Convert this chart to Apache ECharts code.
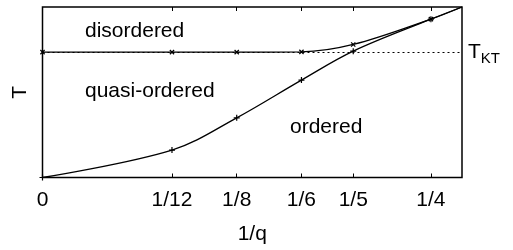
<!DOCTYPE html>
<html lang="en">
<head>
    <meta charset="UTF-8">
    <title>phase diagram</title>
    <script src="https://cdn.jsdelivr.net/npm/echarts@6/dist/echarts.min.js"></script>
</head>
<body style="margin:0">
    <div id="chart" style="width: 513px;height:250px;"></div>
</body>
<script type="text/javascript">
    // x = 1/q, y = T (T_KT = 1)
    var qInv = [0, 1/12, 1/8, 1/6, 1/5, 1/4];
    var tickLabels = ['0', '1/12', '1/8', '1/6', '1/5', '1/4'];
    var tOrdered = [0, 0.219, 0.476, 0.777, 1.008, 1.263];
    var tDisordered = [1.0, 1.0, 1.0, 1.002, 1.061, 1.263];
    var tKT = 1.0;
    var xMax = 0.27, yMax = 1.36;  // both lines run to the top-right corner

    var FONT = 'Liberation Sans';
    var plus = 'path://M0,4H10V6H0Z M4,0H6V10H4Z';

    function points(ys) {
        var d = qInv.map(function (x, i) { return [x, ys[i]]; });
        d.push({ value: [xMax, yMax], symbol: 'none' });
        return d;
    }

    var myChart = echarts.init(document.getElementById('chart'));

    var axisX = {
        type: 'value', min: 0, max: xMax,
        axisLine: { show: false },
        splitLine: { show: false },
        axisTick: { inside: true, length: 4, customValues: qInv, lineStyle: { color: '#000', width: 1 } }
    };

    var option = {
        animation: false,
        grid: {
            left: 42.5, right: 51, top: 7, bottom: 72.5,
            show: true, borderColor: '#000', borderWidth: 1.5
        },
        xAxis: [
            Object.assign({}, axisX, {
                position: 'bottom',
                name: '1/q', nameLocation: 'middle', nameGap: 46,
                nameTextStyle: { fontFamily: FONT, fontSize: 21, color: '#000' },
                axisLabel: {
                    customValues: qInv, margin: 12,
                    fontFamily: FONT, fontSize: 21, color: '#000',
                    formatter: function (v) {
                        for (var i = 0; i < qInv.length; i++) {
                            if (Math.abs(qInv[i] - v) < 1e-6) return tickLabels[i];
                        }
                        return '';
                    }
                }
            }),
            Object.assign({}, axisX, { position: 'top', axisLabel: { show: false } })
        ],
        yAxis: {
            type: 'value', min: 0, max: yMax,
            name: 'T', nameLocation: 'middle', nameGap: 12,
            nameTextStyle: { fontFamily: FONT, fontSize: 21, color: '#000' },
            axisLine: { show: false }, axisTick: { show: false },
            axisLabel: { show: false }, splitLine: { show: false }
        },
        series: [
            {
                name: 'disordered', type: 'line', xAxisIndex: 0,
                data: points(tDisordered),
                smooth: 0.35,
                symbol: plus, symbolRotate: 45, symbolSize: 6,
                lineStyle: { color: '#000', width: 1.3 },
                itemStyle: { color: '#000' },
                markLine: {
                    silent: true, symbol: 'none',
                    lineStyle: { color: '#000', type: [2, 3], width: 1 },
                    label: {
                        position: 'end', distance: 6,
                        formatter: 'T{s|KT}',
                        fontFamily: FONT, fontSize: 21, color: '#000',
                        rich: { s: { fontFamily: FONT, fontSize: 15, color: '#000', padding: [14, 0, 0, 0] } }
                    },
                    data: [{ yAxis: tKT }]
                },
                z: 3
            },
            {
                name: 'ordered', type: 'line', xAxisIndex: 0,
                data: points(tOrdered),
                smooth: 0.35,
                symbol: plus, symbolSize: 6,
                lineStyle: { color: '#000', width: 1.3 },
                itemStyle: { color: '#000' },
                z: 3
            }
        ],
        graphic: [
            { type: 'text', left: 85, top: 21, style: { text: 'disordered', font: '21px "Liberation Sans"', fill: '#000' } },
            { type: 'text', left: 85, top: 81, style: { text: 'quasi-ordered', font: '21px "Liberation Sans"', fill: '#000' } },
            { type: 'text', left: 290, top: 117, style: { text: 'ordered', font: '21px "Liberation Sans"', fill: '#000' } }
        ]
    };

    myChart.setOption(option);
</script>
</html>
